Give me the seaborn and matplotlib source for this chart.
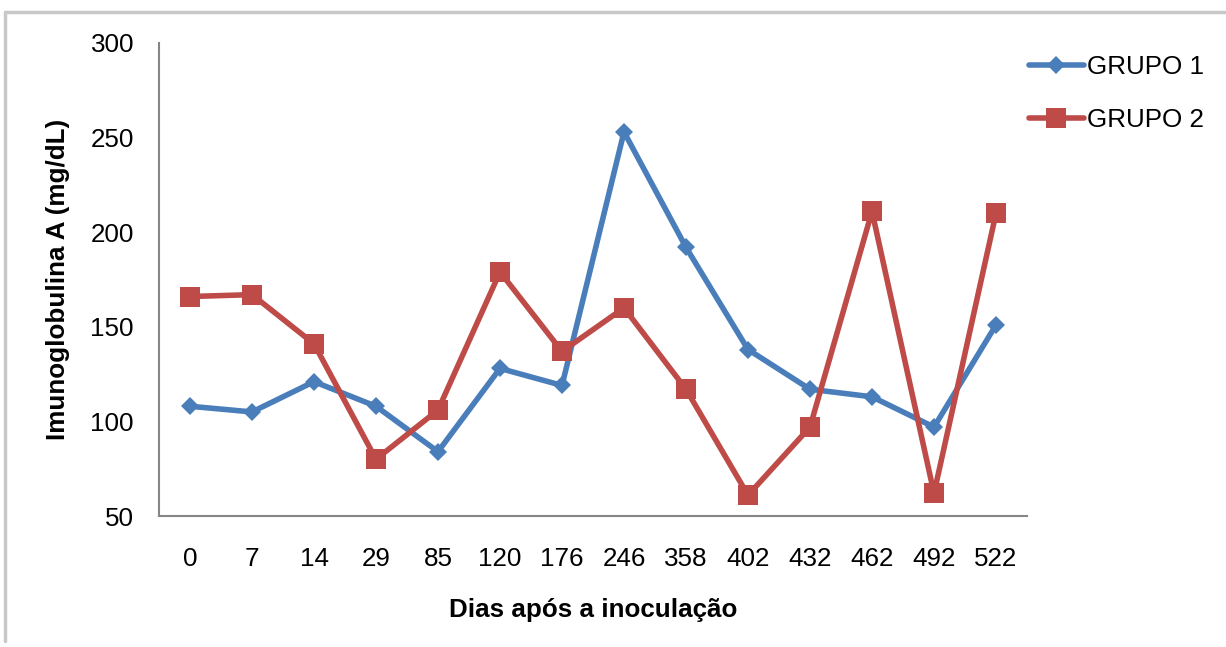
import matplotlib
matplotlib.use("Agg")
import matplotlib.pyplot as plt
from matplotlib.lines import Line2D
import seaborn as sns
import pandas as pd

# Days after inoculation (sampling points, shown as equally spaced categories)
dias = ["0", "7", "14", "29", "85", "120", "176", "246", "358", "402", "432", "462", "492", "522"]
grupo1 = [108, 105, 121, 108, 84, 128, 119, 253, 192, 138, 117, 113, 97, 151]
grupo2 = [166, 167, 141, 80, 106, 179, 137, 160, 117, 61, 97, 211, 62, 210]

yticks = [50, 100, 150, 200, 250, 300]

sns.set_theme(style="white")
plt.rcParams["font.family"] = ["Liberation Sans", "DejaVu Sans"]
plt.rcParams["text.color"] = "black"
plt.rcParams["axes.labelcolor"] = "black"

BLUE = "#4A7EBB"
RED = "#BE4B48"
FS = 18.7

fig = plt.figure(figsize=(12.26, 6.47), dpi=100)
ax = fig.add_axes([159 / 1226, 1 - 516 / 647, (1027 - 159) / 1226, (516 - 43) / 647])

df = pd.DataFrame({
    "dia": dias * 2,
    "valor": grupo1 + grupo2,
    "grupo": ["GRUPO 1"] * len(dias) + ["GRUPO 2"] * len(dias),
})

sns.lineplot(data=df[df.grupo == "GRUPO 1"], x="dia", y="valor", sort=False,
             color=BLUE, lw=4, marker="D", markersize=9.5, markeredgewidth=0,
             ax=ax, legend=False)
sns.lineplot(data=df[df.grupo == "GRUPO 2"], x="dia", y="valor", sort=False,
             color=RED, lw=4, marker="s", markersize=14, markeredgewidth=0,
             ax=ax, legend=False)

ax.set_xlim(-0.5, len(dias) - 0.5)
ax.set_ylim(50, 300)
ax.set_yticks(yticks)
ax.set_yticklabels([str(v) for v in yticks])

for side in ("top", "right"):
    ax.spines[side].set_visible(False)
for side in ("left", "bottom"):
    ax.spines[side].set_color("#868686")
    ax.spines[side].set_linewidth(1.5)

ax.tick_params(axis="y", length=0, pad=18, labelsize=FS, colors="black")
ax.tick_params(axis="x", length=0, pad=22, labelsize=FS, colors="black")

ax.set_xlabel("Dias após a inoculação", fontsize=FS, fontweight="bold", labelpad=20)
ax.set_ylabel("Imunoglobulina A (mg/dL)", fontsize=FS, fontweight="bold", labelpad=15)

handles = [
    Line2D([], [], color=BLUE, lw=4, marker="D", markersize=9.5, markeredgewidth=0),
    Line2D([], [], color=RED, lw=4, marker="s", markersize=14, markeredgewidth=0),
]
fig.legend(handles, ["GRUPO 1", "GRUPO 2"], loc="upper left",
           bbox_to_anchor=(1029 / 1226, 1 - 55 / 647), frameon=False,
           fontsize=FS, handlelength=2.1, handletextpad=0.15,
           labelspacing=1.12, borderpad=0, borderaxespad=0)

# light frame around the chart area
fig.add_artist(Line2D([5 / 1226, 5 / 1226], [0.01, 1 - 12 / 647],
                      transform=fig.transFigure, color="#C8C8C8", lw=2.5))
fig.add_artist(Line2D([5 / 1226, 1], [1 - 12 / 647, 1 - 12 / 647],
                      transform=fig.transFigure, color="#C8C8C8", lw=2.5))

fig.savefig("out.png", dpi=100)
